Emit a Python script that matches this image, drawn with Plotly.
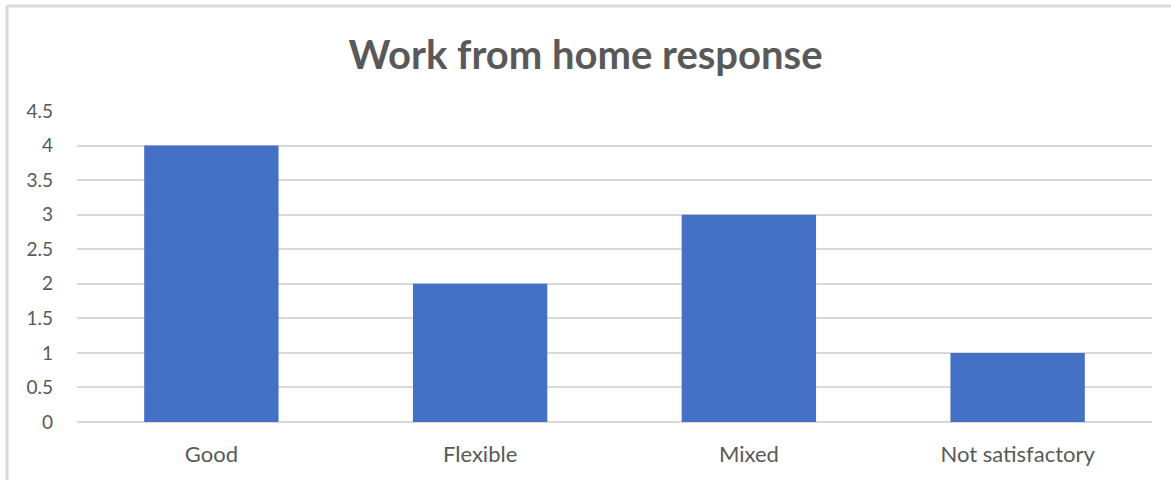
import plotly.graph_objects as go

categories = ["Good", "Flexible", "Mixed", "Not satisfactory"]
values = [4, 2, 3, 1]
tick_vals = [0, 0.5, 1, 1.5, 2, 2.5, 3, 3.5, 4, 4.5]
tick_text = ["0", "0.5", "1", "1.5", "2", "2.5", "3", "3.5", "4", "4.5"]

W, H = 1171, 480
ML, MR, MT, MB = 77, 19, 111, 58
pw = W - ML - MR
ph = H - MT - MB

fig = go.Figure()
fig.add_trace(go.Bar(
    x=categories, y=values,
    marker=dict(color="#4471c5", line=dict(width=0)),
    width=0.5,
))

fig.update_layout(
    width=W, height=H,
    margin=dict(l=ML, r=MR, t=MT, b=MB, pad=0),
    paper_bgcolor="white", plot_bgcolor="white",
    showlegend=False,
    title=dict(text="<b>Work from home response</b>", x=0.5, xanchor="center",
               y=1 - 55 / H, yanchor="middle",
               font=dict(family="Lato, Carlito, sans-serif", size=40, color="#595959")),
    font=dict(family="Lato, Carlito, sans-serif", size=20, color="#595959"),
    xaxis=dict(showgrid=False, showline=False, zeroline=False, ticks="",
               tickfont=dict(size=22, color="#595959"), ticklabelstandoff=17),
    yaxis=dict(range=[0, 4.5], tickvals=tick_vals, ticktext=tick_text,
               showgrid=True, gridcolor="#d9d9d9", gridwidth=1.5,
               zeroline=True, zerolinecolor="#d9d9d9", zerolinewidth=1.5,
               showline=False, ticks="", ticklabelstandoff=23,
               tickfont=dict(size=19, color="#595959")),
    bargap=0.5,
    shapes=[
        dict(type="line", xref="paper", yref="paper",
             x0=(7 - ML) / pw, x1=(W + 5 - ML) / pw,
             y0=(H - 6 - MB) / ph, y1=(H - 6 - MB) / ph,
             line=dict(color="#d9d9d9", width=3)),
        dict(type="line", xref="paper", yref="paper",
             x0=(7 - ML) / pw, x1=(7 - ML) / pw,
             y0=(H - 6 - MB) / ph, y1=-MB / ph - 0.05,
             line=dict(color="#d9d9d9", width=3)),
    ],
)

fig.write_html("out.html")
